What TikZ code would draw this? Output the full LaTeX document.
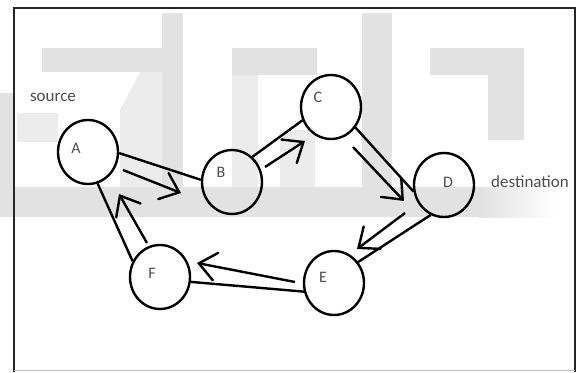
\documentclass[tikz,border=0pt]{standalone}
\usepackage{fontspec}
\setmainfont{Carlito}
\usetikzlibrary{arrows.meta,shapes.geometric}
\definecolor{wm}{RGB}{226,226,226}
\definecolor{wmlight}{RGB}{236,236,236}
\begin{document}
\begin{tikzpicture}[x=1pt,y=-1pt,
  vertex/.style={draw, line width=2.4pt, ellipse, minimum width=60pt, minimum height=64pt, inner sep=0pt},
  lab/.style={text=black!70, font=\fontsize{16}{16}\selectfont},
  word/.style={text=black!70, font=\fontsize{17}{17}\selectfont},
  edge/.style={line width=2.4pt},
  arr/.style={line width=2.4pt, -{Straight Barb[length=17pt,width=28pt,line cap=round]}},
  wmark/.style={fill=wm, draw=none},
  wmarkl/.style={fill=wmlight, draw=none}]
\useasboundingbox (0,0) rectangle (578,372);
% watermark
\fill[wmark] (42,48) rectangle (172,72);
\fill[wmark] (162,13) rectangle (183,187);
\fill[wmarkl] (140,72) -- (162,72) -- (162,187) -- (120,187) -- (120,110) -- cycle;
\fill[wmarkl] (17,113) rectangle (58,142);
\fill[wmark] (0,93) rectangle (13,217);
\fill[wmark] (0,187) rectangle (480,217);
\shade[left color=wm, right color=white] (479,187) rectangle (555,217);
\fill[wmark] (232,48) rectangle (317,75);
\fill[wmarkl] (232,75) rectangle (258,187);
\fill[wmarkl] (280,130) rectangle (315,187);
\fill[wmark] (362,13) rectangle (392,187);
\fill[wmark] (430,48) rectangle (524,75);
\fill[wmark] (488,75) rectangle (524,140);
% frame
\draw[line width=2.2pt, black!85] (14,372) -- (14,8) -- (575,8) -- (575,372);
\draw[line width=1pt, black!25] (14,370) -- (575,370);
% nodes
\node[vertex, label={[lab,xshift=-12pt,yshift=4pt]center:A}] (A) at (88,152) {};
\node[vertex, label={[lab,xshift=-11pt,yshift=10pt]center:B}] (B) at (232,182) {};
\node[vertex, label={[lab,xshift=-13pt,yshift=10pt]center:C}] (C) at (331,107) {};
\node[vertex, label={[lab,xshift=4pt,yshift=3pt]center:D}] (D) at (444,185) {};
\node[vertex, label={[lab,xshift=-11pt,yshift=6pt]center:E}] (E) at (334,283) {};
\node[vertex, label={[lab,xshift=-8pt,yshift=4pt]center:F}] (F) at (160,277) {};
\node[word] (src) at (53,97) {source};
\node[word] (dst) at (530,182) {destination};
% edges
\draw[edge] (A.-2) -- (B.176);
\draw[edge] (B.51) -- (C.205);
\draw[edge] (C.-40) -- (D.192);
\draw[edge] (D.246) -- (E.41);
\draw[edge] (E.196) -- (F.-9);
\draw[edge] (F.150) -- (A.-73);
% arrows
\coordinate (ab1) at (123,170); \coordinate (ab2) at (181,193);
\coordinate (bc1) at (265,167); \coordinate (bc2) at (305,141);
\coordinate (cd1) at (353,147); \coordinate (cd2) at (404,201);
\coordinate (de1) at (405,213); \coordinate (de2) at (357,249);
\coordinate (ef1) at (295,282); \coordinate (ef2) at (197,263);
\coordinate (fa1) at (147,243); \coordinate (fa2) at (119,194);
\draw[arr] (ab1) -- (ab2);
\draw[arr] (bc1) -- (bc2);
\draw[arr] (cd1) -- (cd2);
\draw[arr] (de1) -- (de2);
\draw[arr] (ef1) -- (ef2);
\draw[arr] (fa1) -- (fa2);
\end{tikzpicture}
\end{document}
